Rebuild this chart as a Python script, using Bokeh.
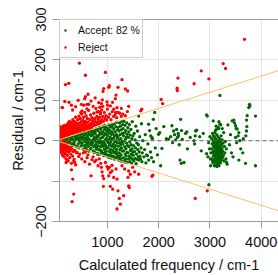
from bokeh.plotting import figure
from bokeh.models import Range1d, LinearAxis, FixedTicker, Legend, LegendItem, Span, Slope
from bokeh.embed import file_html
from bokeh.resources import INLINE

# ---- data: (calculated frequency / cm-1, residual / cm-1) ----
accept_wedge = [
    (110, 2), (130, -3), (150, 4), (170, -5), (185, 1), (160, -1),
    (210, 5), (225, -7), (240, 0), (255, 9), (270, -4), (285, 3), (295, -10), (230, -2),
    (305, 8), (315, -12), (330, 2), (340, -6), (355, 12), (365, -1), (375, 6), (385, -14), (395, 10), (350, -9),
    (405, -15), (412, 3), (420, 14), (430, -8), (440, 7), (448, -18), (455, 0), (465, 16), (472, -4), (480, 10), (490, -12), (497, 5),
    (503, 18), (510, -6), (518, 9), (525, -20), (532, 2), (540, 14), (548, -12), (555, 21), (562, -2), (570, 7), (578, -17), (585, 16), (592, -9), (597, 3), (545, -22),
    (602, -23), (608, 11), (615, -4), (622, 22), (628, -14), (635, 5), (642, -26), (648, 16), (655, -8), (662, 25), (668, 1), (675, -19), (682, 12), (688, -2), (694, 20), (699, -11), (640, -1),
    (703, 27), (708, -6), (714, 14), (720, -25), (726, 3), (732, 21), (738, -15), (744, 8), (750, -29), (756, -1), (762, 18), (768, -10), (774, 29), (780, 5), (786, -21), (792, 12), (797, -4), (735, -28), (760, 24), (790, -16),
    (802, -31), (806, 9), (812, 25), (818, -12), (823, 0), (829, 31), (835, -22), (840, 14), (846, -5), (852, 20), (858, -33), (863, 6), (869, -15), (874, 28), (880, -2), (885, -27), (891, 17), (896, -9), (815, -34), (850, 33), (870, -24), (893, 34),
    (902, 8), (906, -30), (911, 22), (916, -14), (920, 35), (925, -3), (930, -37), (934, 13), (939, -21), (944, 28), (948, -7), (953, 2), (957, -33), (961, 18), (966, -12), (970, 33), (975, -25), (979, 6), (984, -17), (988, 24), (993, -38), (997, -1), (945, 38), (965, -28), (990, 15),
    (1002, -35), (1006, 12), (1010, 30), (1014, -18), (1018, -5), (1023, 39), (1027, -41), (1031, 20), (1035, -27), (1039, 3), (1043, -11), (1047, 26), (1052, -36), (1056, 8), (1060, 35), (1064, -22), (1068, -2), (1073, 16), (1077, -31), (1081, 41), (1085, -14), (1089, 22), (1093, -40), (1097, 4), (1050, -8), (1070, -43), (1090, 33),
    (1102, -24), (1105, 17), (1109, 40), (1113, -9), (1117, -38), (1121, 6), (1125, 29), (1129, -17), (1133, -45), (1137, 12), (1141, -3), (1145, 43), (1149, -30), (1153, 22), (1157, -12), (1161, 35), (1165, -42), (1169, 0), (1173, -21), (1177, 15), (1181, 46), (1185, -34), (1189, 8), (1193, -6), (1197, 27), (1130, -28), (1150, -45), (1175, -27),
    (1202, -40), (1206, 10), (1210, 33), (1214, -14), (1218, -48), (1222, 2), (1226, 24), (1230, -30), (1234, 44), (1238, -5), (1242, -22), (1246, 15), (1250, -44), (1254, 36), (1258, -10), (1262, 5), (1266, -35), (1270, 27), (1274, -18), (1278, 48), (1282, -2), (1286, -50), (1290, 18), (1294, -26), (1298, 40), (1225, -47), (1265, -50), (1240, -38),
    (1302, -8), (1306, 30), (1310, -42), (1314, 12), (1318, -25), (1322, 48), (1326, -1), (1330, -52), (1334, 20), (1338, -15), (1342, 38), (1346, -33), (1350, 4), (1354, -46), (1358, 25), (1362, -20), (1366, -38), (1370, 9), (1374, -6), (1378, 44), (1382, -29), (1386, 16), (1390, -54), (1394, -12), (1398, 32), (1345, -53),
    (1403, -30), (1408, 8), (1412, -45), (1417, 22), (1421, -15), (1426, -38), (1430, 40), (1435, -3), (1440, -52), (1444, 14), (1449, -24), (1453, -42), (1458, 28), (1462, -10), (1467, -33), (1471, -56), (1476, 5), (1480, -20), (1485, 47), (1489, -46), (1494, -28), (1498, 12),
    (1503, -36), (1510, -12), (1516, -50), (1522, 18), (1528, -27), (1535, -44), (1541, 2), (1548, -18), (1554, 36), (1560, -57), (1567, -33), (1573, -6), (1580, -46), (1586, 24), (1592, -22), (1598, -40),
    (1604, -10), (1612, -48), (1620, -28), (1628, 10), (1636, -38), (1645, -45), (1655, -18), (1663, 42), (1672, -52), (1680, -30), (1690, 0), (1609, 61),
]
accept_mid = [
    (1712, -40), (1725, -22), (1738, 15), (1750, -55), (1764, -35), (1779, -37), (1790, -8), (1803, 41), (1805, -48), (1822, 25), (1840, -28), (1844, 12),
    (1860, -42), (1868, 8), (1875, 5), (1896, 53), (1900, -52), (1922, 70), (1933, -18), (1950, 30), (1975, -35), (1998, 16),
    (2020, 20), (2038, -62), (2063, -19), (2100, 35), (2150, 5), (2193, 4), (2233, 10), (2258, 37), (2270, -5), (2290, 24), (2310, 15), (2330, 2),
    (2350, 28), (2365, 8), (2380, 18), (2387, 12), (2400, -10), (2415, -48), (2428, 53), (2441, -56), (2445, 25), (2460, 3), (2493, -54),
    (2525, 18), (2550, 22), (2560, -20), (2615, 8), (2688, 0), (2700, -8), (2712, 12), (2720, 24), (2740, 26), (2800, 10), (2830, -25), (2869, 18),
]
accept_ch = [
    (3030, -20), (3035, 5), (3040, -45), (3045, -8), (3050, 18), (3055, -30), (3060, -55), (3062, -2), (3066, -38), (3070, 12), (3072, -15), (3076, -48),
    (3080, -25), (3082, 0), (3086, -62), (3090, -35), (3092, 8), (3096, -18), (3100, -42), (3102, -5), (3106, 25), (3108, -28), (3112, -52), (3115, -12),
    (3118, 3), (3122, -38), (3125, -22), (3128, -60), (3130, -45), (3132, 15), (3135, -8), (3138, -30), (3140, -50), (3143, 0), (3146, -16), (3148, -40),
    (3152, -25), (3155, 10), (3158, -58), (3160, -34), (3163, -4), (3166, -46), (3170, -20), (3172, 30), (3175, -12), (3178, -38), (3182, -52), (3185, -28),
    (3188, 5), (3192, -44), (3195, -15), (3198, -33), (3202, -2), (3206, -55), (3210, -24), (3214, -40), (3218, 12), (3222, -10), (3226, -48), (3230, -30),
    (3235, -18), (3240, 2), (3245, -42), (3250, -26), (3256, -6), (3262, -36), (3268, 20), (3275, -50), (3282, -14), (3290, -30), (3300, -2), (3310, -45),
    (3320, -20), (3324, -54), (3336, -58), (3068, -26), (3088, -12), (3110, -34), (3120, -50), (3142, -20), (3150, -6), (3168, -30), (3180, -2), (3190, -24),
    (3200, -48), (3212, -8), (3228, -20), (3104, -60), (3134, -64), (3176, -62), (3094, 20), (3126, 28), (3160, 33), (3052, -50), (3075, -5), (3098, -52),
    (3145, -54), (3185, -45), (3205, -36),
    (3064, 49), (3194, 41), (3210, 39), (3350, 39), (3174, 47), (3194, 112), (2947, 61), (3120, 36), (3240, 30), (2934, 64), (2934, -32),
    (3434, 49), (3466, 51), (3480, 44), (3499, 37), (3510, 30), (3531, 29), (3564, 20), (3550, 12), (3499, 8), (3583, 0), (3520, -5), (3564, -48),
    (3600, -20), (3650, 5), (3693, -56), (3700, 12), (3713, 24), (3720, 35), (3713, 51), (3726, 62), (3758, 82), (3778, 86), (3772, 90), (3888, 61),
    (3888, -62), (3420, -30), (3380, -10), (3400, 15), (3450, -40), (3640, -30), (2979, -109), (3012, -62), (2990, -20), (2960, -40), (3000, 10),
    (3010, -45), (2975, -5), (3020, -30),
]
reject_upper = [
    (62, 3), (65, 12), (68, 22), (70, 30), (72, -5), (75, 8), (78, 17), (80, 26), (82, 2), (85, 34), (88, 13), (90, -12), (92, 21), (95, 6), (98, 28),
    (100, -20), (102, 16), (105, 10), (108, 33), (110, -8), (112, 24), (115, 4), (118, 19), (120, -25), (122, 29), (125, 9), (128, 14), (130, -15),
    (132, 22), (135, 36), (138, 7), (140, 18), (142, -3), (145, 27), (148, 12), (150, 31), (152, -10), (155, 20), (158, 9), (160, 25), (163, 15),
    (165, 38), (168, 11), (170, -18), (172, 22), (175, 30), (178, 14), (180, -6), (183, 19), (186, 26), (190, 12), (193, 35), (196, 21), (199, -12),
    (202, 16), (205, 28), (208, 12), (211, 40), (214, 22), (217, -14), (220, 33), (223, 15), (226, 25), (229, -8), (232, 19), (235, 44), (238, 30),
    (241, 14), (244, 23), (247, 37), (250, -20), (253, 18), (256, 28), (259, 48), (262, 16), (265, 34), (268, 21), (271, 42), (274, -16), (277, 26),
    (280, 17), (284, 38), (288, 24), (292, 31), (296, 20), (300, 45), (305, 28), (310, 18), (315, 36), (320, 24), (325, 52), (330, 30), (335, 19),
    (340, 41), (345, 27), (350, 34), (355, 22), (360, 47), (365, 31), (370, 25), (375, 39), (380, 58), (385, 28), (390, 35), (395, 20),
    (402, 44), (408, 26), (414, 33), (420, 52), (426, 22), (432, 38), (438, 29), (444, 61), (450, 25), (456, 43), (462, 31), (468, 55), (474, 24),
    (480, 36), (486, 47), (492, 28), (498, 66), (504, 40), (510, 30), (516, 50), (522, 26), (528, 37), (534, 58), (540, 32), (546, 45), (552, 27),
    (558, 70), (564, 39), (570, 48), (576, 30), (582, 62), (588, 35), (594, 43), (600, 29), (608, 55), (616, 34), (624, 46), (632, 75), (640, 38),
    (648, 30), (656, 52), (664, 40), (672, 64), (680, 33), (688, 44), (696, 57),
    (705, 36), (715, 50), (725, 42), (735, 68), (745, 38), (755, 55), (765, 47), (775, 80), (785, 40), (795, 60), (805, 45), (815, 53), (825, 72),
    (835, 42), (845, 58), (855, 49), (865, 66), (875, 45), (885, 76), (895, 52), (910, 60), (925, 48), (940, 70), (955, 55), (970, 62), (985, 51),
    (1000, 78), (1020, 58), (1045, 66), (1070, 52), (1095, 72), (1120, 60), (1150, 64), (1180, 57), (1210, 70), (1240, 68), (1270, 60), (1300, 66),
    (1350, 62), (1390, 72),
    (123, 82), (168, 97), (250, 95), (320, 76), (380, 84), (430, 100), (480, 70), (540, 88), (600, 79), (680, 98), (720, 85), (760, 106), (850, 83),
    (900, 101), (1000, 88), (1100, 95), (1160, 70),
    (453, 192), (960, 169), (570, 162), (181, 139), (246, 142), (1284, 151), (1037, 136), (1025, 132), (927, 129), (914, 122), (1206, 132),
    (1349, 128), (1394, 123), (1167, 113), (1154, 104), (622, 115), (570, 109), (557, 104), (116, 82), (298, 88), (492, 90), (603, 90), (635, 90),
    (830, 94), (882, 92), (992, 96), (908, 85), (1057, 86), (1122, 78), (1187, 82), (1271, 80), (1414, 85), (1670, 78), (1650, 74), (505, 74),
    (797, 71), (862, 70), (2376, 155), (2360, 130), (2363, 124), (2690, 141), (2048, 102), (2077, 92), (3674, 251), (3259, 191), (3304, 179),
    (2830, 173), (2979, 153),
]
reject_lower = [
    (62, -4), (66, -15), (70, -10), (74, -22), (78, -6), (84, -28), (88, -16), (94, -9), (100, -30), (106, -18), (112, -12), (118, -24), (124, -36),
    (130, -20), (136, -11), (142, -29), (148, -16), (156, -40), (162, -22), (170, -12), (178, -32), (186, -19), (194, -45), (202, -26), (210, -14),
    (218, -36), (226, -20), (235, -50), (244, -28), (254, -17), (264, -42), (275, -24), (286, -33), (298, -56), (310, -20), (322, -38), (335, -27),
    (350, -46), (365, -24), (380, -60), (395, -30),
    (213, -47), (194, -54), (343, -50), (363, -54), (298, -72), (324, -95), (343, -132), (311, -151), (408, -29), (440, -39), (460, -33), (500, -45),
    (530, -30), (560, -52), (570, -28), (603, -42), (620, -35), (650, -58), (700, -47), (681, -87), (720, -40), (752, -52), (780, -48), (817, -62),
    (840, -45), (870, -56), (882, -66), (895, -77), (908, -87), (927, -94), (921, -113), (960, -54), (992, -64), (1012, -70), (1037, -66),
    (1089, -61), (1057, -79), (1025, -87), (1122, -91), (1187, -95), (1057, -113), (1102, -120), (1206, -124), (1232, -143), (1187, -169),
    (1252, -157), (1317, -136), (1284, -62), (1336, -70), (1414, -75), (1446, -83), (1492, -66), (1609, -83), (1401, -91), (1414, -112),
    (1427, -116), (1531, -77), (1888, -85), (1868, -88), (2712, -143), (2947, -124), (1167, -70), (1089, -75),
]

x_ticks = [1000, 2000, 3000, 4000]
y_ticks = [-200, -100, 0, 100, 200, 300]
accept_label = "Accept: 82 %"
reject_label = "Reject"
limit_slope = 0.04

accept = accept_wedge + accept_mid + accept_ch
reject = reject_upper + reject_lower
acc_f = [a for a, b in accept]
acc_r = [b for a, b in accept]
rej_f = [a for a, b in reject]
rej_r = [b for a, b in reject]

FONT = "Liberation Sans"
GRAY = "#9a9a9a"

p = figure(width=278, height=275, x_range=Range1d(65, 4337), y_range=Range1d(-200, 300),
           output_backend="svg", toolbar_location=None,
           min_border_left=59, min_border_right=0, min_border_top=19, min_border_bottom=54)
p.outline_line_color = None
p.background_fill_color = "white"

p.xaxis.ticker = FixedTicker(ticks=x_ticks)
p.yaxis.ticker = FixedTicker(ticks=y_ticks)
p.yaxis.major_label_overrides = {-100: ""}
p.xaxis.axis_label = "Calculated frequency / cm-1"
p.yaxis.axis_label = "Residual / cm-1"
p.yaxis.major_label_orientation = "vertical"
for ax in (p.xaxis, p.yaxis):
    ax.axis_line_color = GRAY
    ax.major_tick_line_color = GRAY
    ax.major_tick_out = 7
    ax.major_tick_in = 0
    ax.minor_tick_line_color = None
    ax.major_label_text_font = FONT
    ax.major_label_text_font_size = "14.5px"
    ax.major_label_text_color = "#111111"
    ax.axis_label_text_font = FONT
    ax.axis_label_text_font_size = "14.5px"
    ax.axis_label_text_font_style = "normal"
    ax.axis_label_text_color = "#111111"
p.xaxis.major_label_standoff = 8
p.xaxis.axis_label_standoff = 7
p.yaxis.major_label_standoff = 7
p.yaxis.axis_label_standoff = 7

top_axis = LinearAxis(ticker=FixedTicker(ticks=[]), major_label_text_font_size="0px",
                      axis_line_color=GRAY, major_tick_line_color=None, minor_tick_line_color=None)
p.add_layout(top_axis, "above")

p.grid.grid_line_color = "#e4e4e4"
p.grid.grid_line_width = 1

g = p.scatter(acc_f, acc_r, marker="circle", size=3.3, fill_color="#006400", line_color=None)
r = p.scatter(rej_f, rej_r, marker="circle", size=3.3, fill_color="#ff0000", line_color=None)

p.add_layout(Span(location=0, dimension="width", line_color="#666666", line_dash="4 3", line_width=1))
p.add_layout(Slope(gradient=limit_slope, y_intercept=0, line_color="#ffc060", line_width=1))
p.add_layout(Slope(gradient=-limit_slope, y_intercept=0, line_color="#ffc060", line_width=1))

legend = Legend(items=[LegendItem(label=accept_label, renderers=[g]), LegendItem(label=reject_label, renderers=[r])],
                location="top_left", margin=0, padding=2, spacing=1, glyph_width=6, glyph_height=16,
                label_height=16, label_standoff=10, label_text_font=FONT, label_text_font_size="10.5px",
                label_text_color="#111111", border_line_color=GRAY, background_fill_alpha=1.0)
p.add_layout(legend)

open("out.html", "w").write(file_html(p, INLINE))
